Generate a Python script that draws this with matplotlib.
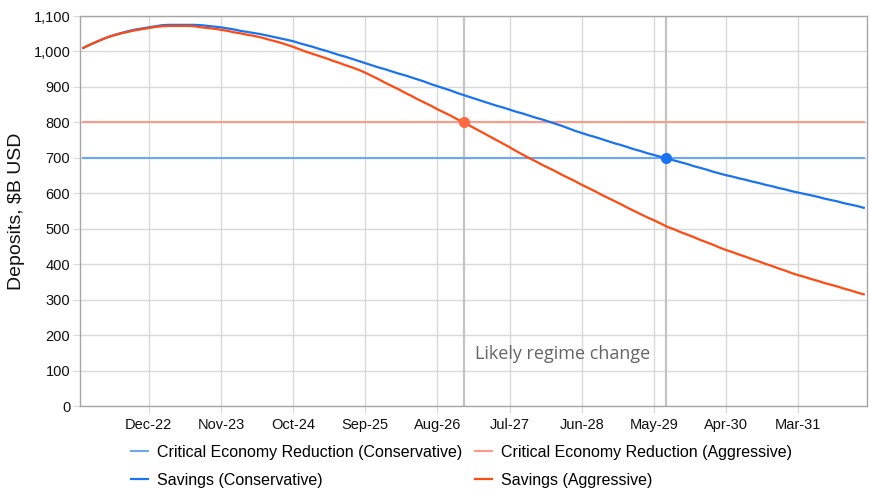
import matplotlib
matplotlib.use("Agg")
from matplotlib import pyplot as plt
from matplotlib.ticker import FuncFormatter, MultipleLocator

# monthly points, Feb-22 .. Jan-32
savings_conservative = [
    1010, 1019, 1027, 1035, 1042, 1048, 1053, 1058, 1062, 1065,
    1068, 1071, 1074, 1075, 1075, 1075, 1075, 1075, 1074, 1072,
    1070, 1068, 1065, 1062, 1058, 1055, 1052, 1049, 1045, 1041,
    1037, 1033, 1029, 1023, 1018, 1013, 1007, 1002, 996, 990,
    985, 979, 973, 967, 961, 955, 950, 944, 938, 933,
    927, 921, 915, 908, 902, 896, 890, 883, 877, 871,
    865, 859, 853, 847, 842, 836, 830, 825, 819, 813,
    808, 802, 796, 790, 783, 776, 770, 764, 759, 753,
    747, 741, 736, 730, 724, 719, 713, 708, 703, 699,
    693, 688, 683, 677, 672, 667, 661, 656, 651, 647,
    642, 638, 633, 629, 624, 620, 615, 611, 606, 602,
    598, 594, 590, 585, 581, 577, 572, 568, 564, 559,
]
savings_aggressive = [
    1010, 1019, 1027, 1035, 1042, 1047, 1052, 1056, 1060, 1063,
    1066, 1069, 1071, 1072, 1072, 1072, 1072, 1071, 1068, 1066,
    1064, 1061, 1058, 1054, 1051, 1047, 1044, 1040, 1035, 1030,
    1025, 1019, 1013, 1006, 999, 993, 987, 981, 974, 968,
    961, 955, 948, 940, 931, 922, 912, 903, 894, 884,
    875, 865, 856, 847, 837, 828, 819, 809, 800, 790,
    780, 770, 760, 750, 740, 730, 719, 709, 699, 690,
    680, 671, 662, 652, 643, 634, 624, 615, 606, 596,
    587, 578, 569, 559, 550, 541, 532, 524, 515, 506,
    499, 491, 484, 477, 469, 462, 455, 447, 440, 434,
    427, 421, 414, 408, 401, 395, 388, 382, 375, 369,
    364, 358, 353, 347, 342, 337, 331, 326, 320, 315,
]
critical_conservative = 700
critical_aggressive = 800
regime_change_x = [58, 88.8]   # month index where savings hit the critical level
regime_change_y = [800, 700]

tick_labels = ["Dec-22", "Nov-23", "Oct-24", "Sep-25", "Aug-26",
               "Jul-27", "Jun-28", "May-29", "Apr-30", "Mar-31"]
tick_pos = list(range(10, 120, 11))

plt.rcParams['font.family'] = ['Liberation Sans', 'DejaVu Sans']

n = len(savings_conservative)
x = list(range(n))

fig = plt.figure(figsize=(8.69, 5.0), dpi=100)
ax = fig.add_axes([80 / 869, 1 - 406 / 500, 787 / 869, 390 / 500])

c_blue = '#1a73f0'
c_red = '#ff4a12'
c_lblue = '#6aa8f7'
c_lred = '#ff9a84'

h1, = ax.plot(x, [critical_conservative] * n, color=c_lblue, lw=1.5,
              label="Critical Economy Reduction (Conservative)", zorder=3)
h2, = ax.plot(x, [critical_aggressive] * n, color=c_lred, lw=1.5,
              label="Critical Economy Reduction (Aggressive)", zorder=3)
h3, = ax.plot(x, savings_conservative, color=c_blue, lw=1.6,
              label="Savings (Conservative)", zorder=4)
h4, = ax.plot(x, savings_aggressive, color=c_red, lw=1.6,
              label="Savings (Aggressive)", zorder=4)

for xv in regime_change_x:
    ax.axvline(xv, color='#c4c4c4', lw=1.6, zorder=2)
ax.plot(regime_change_x[0], regime_change_y[0], 'o', color='#ff6a45', ms=7, zorder=5)
ax.plot(regime_change_x[1], regime_change_y[1], 'o', color=c_blue, ms=7, zorder=5)

# pixel position, origin bottom-left
ax.text(475, 146, "Likely regime change", transform=None, fontsize=13,
        color='#666666', family=['Open Sans', 'DejaVu Sans'], va='center', ha='left')

ax.set_xlim(-0.5, n - 0.5)
ax.set_ylim(0, 1100)
ax.yaxis.set_major_locator(MultipleLocator(100))
ax.yaxis.set_major_formatter(FuncFormatter(lambda v, p: format(int(v), ',d')))
ax.set_xticks(tick_pos)
ax.set_xticklabels(tick_labels)
ax.grid(True, color='#d9d9d9', lw=1.0, zorder=0)
ax.tick_params(axis='both', colors='#d9d9d9', labelcolor='#111111', labelsize=10.5, length=5)
ax.tick_params(axis='y', pad=2)
for s in ax.spines.values():
    s.set_color('#a6a6a6')
    s.set_linewidth(1.0)
ax.set_ylabel("Deposits, $B USD", fontsize=14, color='#111111', labelpad=6)

fig.legend([h1, h3, h2, h4], [h.get_label() for h in [h1, h3, h2, h4]],
           ncol=2, loc='lower left', bbox_to_anchor=(117 / 869, -0.004),
           frameon=False, fontsize=11.5, handlelength=1.05, handletextpad=0.55,
           columnspacing=0.8, labelspacing=0.79)

fig.savefig("out.png", dpi=100)
plt.close()
